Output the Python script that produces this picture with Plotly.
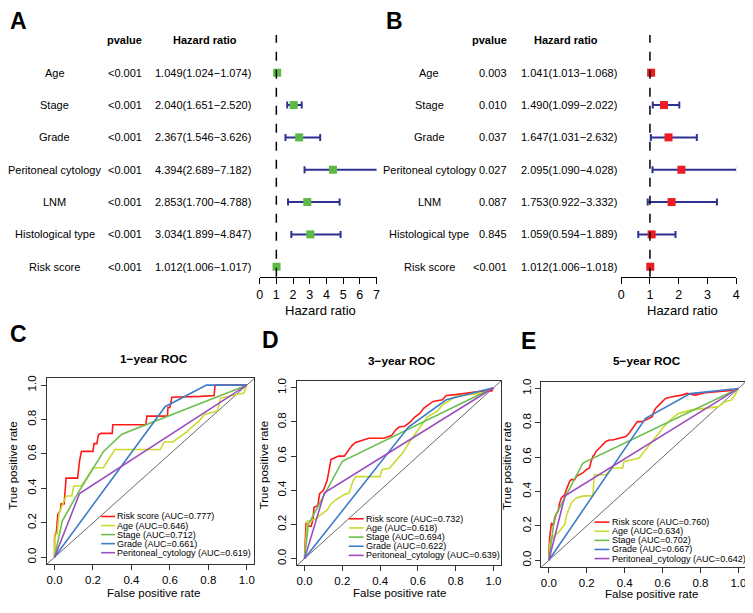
import plotly.graph_objects as go

# The page body has an 8px margin, so the figure is 8px smaller and all pixel
# positions below (measured on the 753x613 reference) are shifted by OX/OY.
PAGE_W, PAGE_H = 753, 613
OX, OY = 8, 8
W, H = PAGE_W - OX, PAGE_H - OY
FONT = "Liberation Sans, Arial, sans-serif"

# ---------------- Forest plot data (A: univariate, B: multivariate) ----------------
variables = ["Age", "Stage", "Grade", "Peritoneal cytology", "LNM", "Histological type", "Risk score"]
uni_p = ["<0.001", "<0.001", "<0.001", "<0.001", "<0.001", "<0.001", "<0.001"]
uni_hr = [1.049, 2.040, 2.367, 4.394, 2.853, 3.034, 1.012]
uni_lo = [1.024, 1.651, 1.546, 2.689, 1.700, 1.899, 1.006]
uni_hi = [1.074, 2.520, 3.626, 7.182, 4.788, 4.847, 1.017]
multi_p = ["0.003", "0.010", "0.037", "0.027", "0.087", "0.845", "<0.001"]
multi_hr = [1.041, 1.490, 1.647, 2.095, 1.753, 1.059, 1.012]
multi_lo = [1.013, 1.099, 1.031, 1.090, 0.922, 0.594, 1.006]
multi_hi = [1.068, 2.022, 2.632, 4.028, 3.332, 1.889, 1.018]
uni_ticks = [0, 1, 2, 3, 4, 5, 6, 7]
multi_ticks = [0, 1, 2, 3, 4]

# ---------------- ROC data ----------------
roc_names = ["Risk score", "Age", "Stage", "Grade", "Peritoneal_cytology"]
roc_colors = ["#FF1A1A", "#CADB2F", "#6BBF4E", "#3D7CCB", "#9C4DBE"]
auc_1y = [0.777, 0.646, 0.712, 0.661, 0.619]
auc_3y = [0.732, 0.618, 0.694, 0.622, 0.639]
auc_5y = [0.760, 0.634, 0.702, 0.667, 0.642]
roc_ticks = [0.0, 0.2, 0.4, 0.6, 0.8, 1.0]

# 1-year
y1_risk_fpr = [0, 0, 0.01, 0.017, 0.03, 0.034, 0.05, 0.06, 0.12, 0.13, 0.14, 0.2, 0.205, 0.22, 0.228, 0.24, 0.3, 0.303, 0.475, 0.48, 0.587, 0.59, 0.6, 0.61, 0.76, 0.83, 0.835, 1]
y1_risk_tpr = [0, 0.116, 0.15, 0.25, 0.27, 0.31, 0.31, 0.46, 0.46, 0.56, 0.615, 0.615, 0.66, 0.66, 0.71, 0.72, 0.72, 0.77, 0.77, 0.82, 0.82, 0.87, 0.87, 0.93, 0.935, 0.94, 1, 1]
y1_age_fpr = [0, 0, 0.014, 0.023, 0.032, 0.06, 0.09, 0.1, 0.14, 0.2, 0.254, 0.314, 0.55, 0.57, 0.615, 0.69, 0.727, 0.75, 0.78, 0.847, 0.864, 0.985, 1]
y1_age_tpr = [0, 0.135, 0.135, 0.25, 0.28, 0.356, 0.356, 0.414, 0.414, 0.52, 0.52, 0.626, 0.626, 0.67, 0.67, 0.73, 0.77, 0.79, 0.83, 0.85, 0.925, 0.954, 1]
y1_stage_fpr = [0, 0.04, 0.12, 0.255, 0.35, 1]
y1_stage_tpr = [0, 0.21, 0.37, 0.615, 0.715, 1]
y1_grade_fpr = [0, 0.575, 0.79, 1]
y1_grade_tpr = [0, 0.875, 1, 1]
y1_pc_fpr = [0, 0.13, 1]
y1_pc_tpr = [0, 0.37, 1]

# 3-year
y3_risk_fpr = [0, 0.003, 0.008, 0.02, 0.035, 0.045, 0.05, 0.07, 0.08, 0.1, 0.12, 0.13, 0.14, 0.16, 0.18, 0.21, 0.23, 0.25, 0.27, 0.3, 0.34, 0.42, 0.46, 0.48, 0.5, 0.53, 0.56, 0.585, 0.61, 0.63, 0.655, 0.68, 0.73, 0.75, 0.8, 0.87, 0.93, 0.97, 0.99, 1]
y3_risk_tpr = [0, 0.06, 0.21, 0.19, 0.19, 0.23, 0.3, 0.31, 0.38, 0.4, 0.46, 0.52, 0.58, 0.59, 0.6, 0.6, 0.63, 0.66, 0.68, 0.69, 0.705, 0.705, 0.72, 0.75, 0.77, 0.775, 0.8, 0.83, 0.85, 0.88, 0.9, 0.92, 0.93, 0.955, 0.96, 0.97, 0.975, 0.985, 0.98, 1]
y3_age_fpr = [0, 0.005, 0.015, 0.03, 0.06, 0.09, 0.12, 0.14, 0.16, 0.21, 0.236, 0.255, 0.27, 0.4, 0.41, 0.45, 0.48, 0.52, 0.56, 0.6, 0.63, 0.65, 0.7, 0.73, 0.76, 0.8, 0.87, 0.95, 1]
y3_age_tpr = [0, 0.09, 0.22, 0.22, 0.235, 0.26, 0.285, 0.32, 0.34, 0.375, 0.384, 0.45, 0.48, 0.48, 0.52, 0.53, 0.57, 0.62, 0.69, 0.75, 0.8, 0.83, 0.86, 0.9, 0.92, 0.95, 0.96, 0.97, 1]
y3_stage_fpr = [0, 0.02, 0.2, 1]
y3_stage_tpr = [0, 0.2, 0.57, 1]
y3_grade_fpr = [0, 0.55, 0.75, 1]
y3_grade_tpr = [0, 0.77, 0.93, 1]
y3_pc_fpr = [0, 0.105, 1]
y3_pc_tpr = [0, 0.385, 1]

# 5-year
y5_risk_fpr = [0, 0, 0.005, 0.014, 0.023, 0.031, 0.037, 0.049, 0.057, 0.066, 0.084, 0.092, 0.11, 0.118, 0.136, 0.145, 0.162, 0.179, 0.197, 0.214, 0.223, 0.232, 0.24, 0.249, 0.267, 0.284, 0.301, 0.319, 0.336, 0.371, 0.406, 0.423, 0.441, 0.458, 0.467, 0.493, 0.51, 0.545, 0.554, 0.563, 0.58, 0.598, 0.615, 0.65, 0.702, 0.728, 0.772, 0.824, 0.894, 0.929, 0.981, 1]
y5_risk_tpr = [0, 0.044, 0.14, 0.218, 0.2, 0.237, 0.266, 0.286, 0.334, 0.363, 0.382, 0.411, 0.46, 0.469, 0.469, 0.488, 0.498, 0.508, 0.527, 0.537, 0.575, 0.604, 0.614, 0.633, 0.653, 0.672, 0.691, 0.7, 0.7, 0.71, 0.72, 0.739, 0.768, 0.788, 0.807, 0.807, 0.817, 0.836, 0.865, 0.884, 0.903, 0.923, 0.942, 0.952, 0.961, 0.971, 0.961, 0.975, 0.981, 0.985, 0.99, 1]
y5_age_fpr = [0, 0.005, 0.023, 0.031, 0.057, 0.084, 0.092, 0.101, 0.118, 0.145, 0.179, 0.232, 0.24, 0.301, 0.319, 0.336, 0.389, 0.397, 0.441, 0.476, 0.545, 0.58, 0.615, 0.65, 0.685, 0.72, 0.754, 0.824, 0.894, 0.929, 0.963, 0.981, 1]
y5_age_tpr = [0, 0.093, 0.141, 0.141, 0.17, 0.208, 0.257, 0.286, 0.334, 0.363, 0.373, 0.376, 0.498, 0.498, 0.517, 0.537, 0.537, 0.575, 0.585, 0.595, 0.691, 0.739, 0.788, 0.826, 0.855, 0.865, 0.875, 0.884, 0.894, 0.923, 0.932, 0.961, 1]
y5_stage_fpr = [0, 0.03, 0.18, 1]
y5_stage_tpr = [0, 0.25, 0.566, 1]
y5_grade_fpr = [0, 0.51, 0.746, 1]
y5_grade_tpr = [0, 0.826, 0.97, 1]
y5_pc_fpr = [0, 0.085, 1]
y5_pc_tpr = [0, 0.375, 1]


def fx(x):
    return (x - OX) / W


def fy(y):
    return 1 - (y - OY) / H


def xdom(a, b):
    return [fx(a), fx(b)]


def ydom(top, bottom):
    return [fy(bottom), fy(top)]


fig = go.Figure()
annotations = []
shapes = []
layout_axes = {}

GREEN = "#5DB946"
RED_SQ = "#EC1C24"
NAVY = "#2E3192"

n = len(variables)
rows = list(range(n, 0, -1))

forest_panels = [
    dict(ax="", hr=uni_hr, lo=uni_lo, hi=uni_hi, p=uni_p, color=GREEN, ticks=uni_ticks,
         xd=(259, 377), label_x=52, p_x=141, hr_x=202, head_hr_x=204, title_x=320),
    dict(ax="2", hr=multi_hr, lo=multi_lo, hi=multi_hi, p=multi_p, color=RED_SQ, ticks=multi_ticks,
         xd=(624, 740), label_x=430, p_x=510, hr_x=571, head_hr_x=568, title_x=686),
]

TXT = dict(family=FONT, size=11, color="black")

for fp in forest_panels:
    ax = fp["ax"]
    xa, ya = "x" + ax, "y" + ax
    fig.add_trace(go.Scatter(
        x=fp["hr"], y=rows, mode="markers", xaxis=xa, yaxis=ya, cliponaxis=False,
        marker=dict(symbol="square", size=8, color=fp["color"], line=dict(width=0)),
        error_x=dict(type="data", symmetric=False,
                     array=[h - v for h, v in zip(fp["hi"], fp["hr"])],
                     arrayminus=[v - l for v, l in zip(fp["hr"], fp["lo"])],
                     color=NAVY, thickness=2, width=3.5),
        hoverinfo="skip", showlegend=False))
    layout_axes["xaxis" + ax] = dict(
        domain=xdom(*fp["xd"]), range=[fp["ticks"][0], fp["ticks"][-1]], anchor=ya,
        tickvals=fp["ticks"], ticks="outside", ticklen=6, tickwidth=1, tickcolor="black",
        showline=True, linecolor="black", linewidth=1, showgrid=False, zeroline=False,
        tickfont=dict(family=FONT, size=12.5, color="black"))
    layout_axes["yaxis" + ax] = dict(domain=ydom(32, 275), range=[0.692, 8.17], anchor=xa, visible=False)
    shapes.append(dict(type="line", xref=xa, yref=ya + " domain", x0=1, x1=1, y0=0, y1=1,
                       line=dict(color="black", width=1.5, dash="dash")))
    for r, name, pv, h, l, u in zip(rows, variables, fp["p"], fp["hr"], fp["lo"], fp["hi"]):
        annotations.append(dict(text=name, xref="paper", yref=ya, x=fx(fp["label_x"]), y=r,
                                xanchor="center", showarrow=False, borderpad=0, font=TXT))
        annotations.append(dict(text=pv, xref="paper", yref=ya, x=fx(fp["p_x"]), y=r,
                                xanchor="right", showarrow=False, borderpad=0, font=TXT))
        annotations.append(dict(text=f"{h:.3f}({l:.3f}\u2212{u:.3f})", xref="paper", yref=ya,
                                x=fx(fp["hr_x"]), y=r, xanchor="center", showarrow=False,
                                borderpad=0, font=TXT))
    annotations.append(dict(text="<b>pvalue</b>", xref="paper", yref=ya, x=fx(fp["p_x"]), y=n + 1,
                            xanchor="right", showarrow=False, borderpad=0, font=TXT))
    annotations.append(dict(text="<b>Hazard ratio</b>", xref="paper", yref=ya, x=fx(fp["head_hr_x"]),
                            y=n + 1, xanchor="center", showarrow=False, borderpad=0, font=TXT))
    annotations.append(dict(text="Hazard ratio", xref="paper", yref="paper", x=fx(fp["title_x"]),
                            y=fy(309), xanchor="center", yanchor="middle", showarrow=False,
                            font=dict(family=FONT, size=13, color="black")))

roc_panels = [
    dict(ax="3", title="1\u2212year ROC", auc=auc_1y,
         fpr=[y1_risk_fpr, y1_age_fpr, y1_stage_fpr, y1_grade_fpr, y1_pc_fpr],
         tpr=[y1_risk_tpr, y1_age_tpr, y1_stage_tpr, y1_grade_tpr, y1_pc_tpr],
         box=(44.2, 253.8, 377.1, 563.9), title_xy=(152, 358), xt=(152, 593), yt=(10, 465),
         leg=(99, 113, 114.5, 516, 9.1)),
    dict(ax="4", title="3\u2212year ROC", auc=auc_3y,
         fpr=[y3_risk_fpr, y3_age_fpr, y3_stage_fpr, y3_grade_fpr, y3_pc_fpr],
         tpr=[y3_risk_tpr, y3_age_tpr, y3_stage_tpr, y3_grade_tpr, y3_pc_tpr],
         box=(296.7, 502.7, 379.8, 565.2), title_xy=(403, 360), xt=(400, 593), yt=(263, 465),
         leg=(349, 364, 365.5, 518.3, 9.2)),
    dict(ax="5", title="5\u2212year ROC", auc=auc_5y,
         fpr=[y5_risk_fpr, y5_age_fpr, y5_stage_fpr, y5_grade_fpr, y5_pc_fpr],
         tpr=[y5_risk_tpr, y5_age_tpr, y5_stage_tpr, y5_grade_tpr, y5_pc_tpr],
         box=(543.3, 750, 380.4, 566.9), title_xy=(650, 360), xt=(655, 594), yt=(508, 465),
         leg=(597, 612, 613.5, 521.7, 9.15)),
]

for rp in roc_panels:
    ax = rp["ax"]
    xa, ya = "x" + ax, "y" + ax
    x0, x1, y0, y1 = rp["box"]
    common = dict(range=[-0.04, 1.04], tickvals=roc_ticks, ticktext=[f"{t:.1f}" for t in roc_ticks],
                  ticks="outside", ticklen=5, tickwidth=1, tickcolor="#333",
                  showline=True, mirror=True, linecolor="#333", linewidth=1,
                  showgrid=False, zeroline=False,
                  tickfont=dict(family=FONT, size=11.5, color="black"))
    layout_axes["xaxis" + ax] = dict(domain=xdom(x0, x1), anchor=ya, **common)
    layout_axes["yaxis" + ax] = dict(domain=ydom(y0, y1), anchor=xa, tickangle=-90, **common)
    shapes.append(dict(type="line", xref=xa + " domain", yref=ya + " domain", x0=0, y0=0, x1=1, y1=1,
                       layer="below", line=dict(color="#444", width=0.8)))
    for name, col, fpr, tpr in zip(roc_names, roc_colors, rp["fpr"], rp["tpr"]):
        fig.add_trace(go.Scatter(x=fpr, y=tpr, mode="lines", xaxis=xa, yaxis=ya,
                                 line=dict(color=col, width=1.6), hoverinfo="skip", showlegend=False))
    lx0, lx1, tx, ly, step = rp["leg"]
    for i, (name, col, auc) in enumerate(zip(roc_names, roc_colors, rp["auc"])):
        yy = ly + i * step
        shapes.append(dict(type="line", xref="paper", yref="paper", x0=fx(lx0), x1=fx(lx1),
                           y0=fy(yy), y1=fy(yy), line=dict(color=col, width=1.6)))
        annotations.append(dict(text=f"{name} (AUC={auc:.3f})", xref="paper", yref="paper",
                                x=fx(tx), y=fy(yy), xanchor="left", yanchor="middle", showarrow=False,
                                borderpad=0, font=dict(family=FONT, size=9, color="black")))
    annotations.append(dict(text=f"<b>{rp['title']}</b>", xref="paper", yref="paper",
                            x=fx(rp["title_xy"][0]), y=fy(rp["title_xy"][1]), xanchor="center",
                            yanchor="middle", showarrow=False,
                            font=dict(family=FONT, size=11.8, color="black")))
    annotations.append(dict(text="False positive rate", xref="paper", yref="paper",
                            x=fx(rp["xt"][0]), y=fy(rp["xt"][1]), xanchor="center", yanchor="middle",
                            showarrow=False, font=dict(family=FONT, size=11.5, color="black")))
    annotations.append(dict(text="True positive rate", xref="paper", yref="paper", textangle=-90,
                            x=fx(rp["yt"][0]), y=fy(rp["yt"][1]), xanchor="center", yanchor="middle",
                            showarrow=False, font=dict(family=FONT, size=11.5, color="black")))

panel_letters = ["A", "B", "C", "D", "E"]
letter_pos = [(16, 18), (395, 18), (16, 333), (270, 339), (530, 340)]
for letter, (lx, ly) in zip(panel_letters, letter_pos):
    annotations.append(dict(text=f"<b>{letter}</b>", xref="paper", yref="paper", x=fx(lx), y=fy(ly),
                            xanchor="center", yanchor="middle", showarrow=False,
                            font=dict(family=FONT, size=23, color="black")))

fig.update_layout(
    width=W, height=H, margin=dict(l=0, r=0, t=0, b=0),
    paper_bgcolor="white", plot_bgcolor="white", showlegend=False,
    annotations=annotations, shapes=shapes, **layout_axes)

fig.write_html("out.html")
